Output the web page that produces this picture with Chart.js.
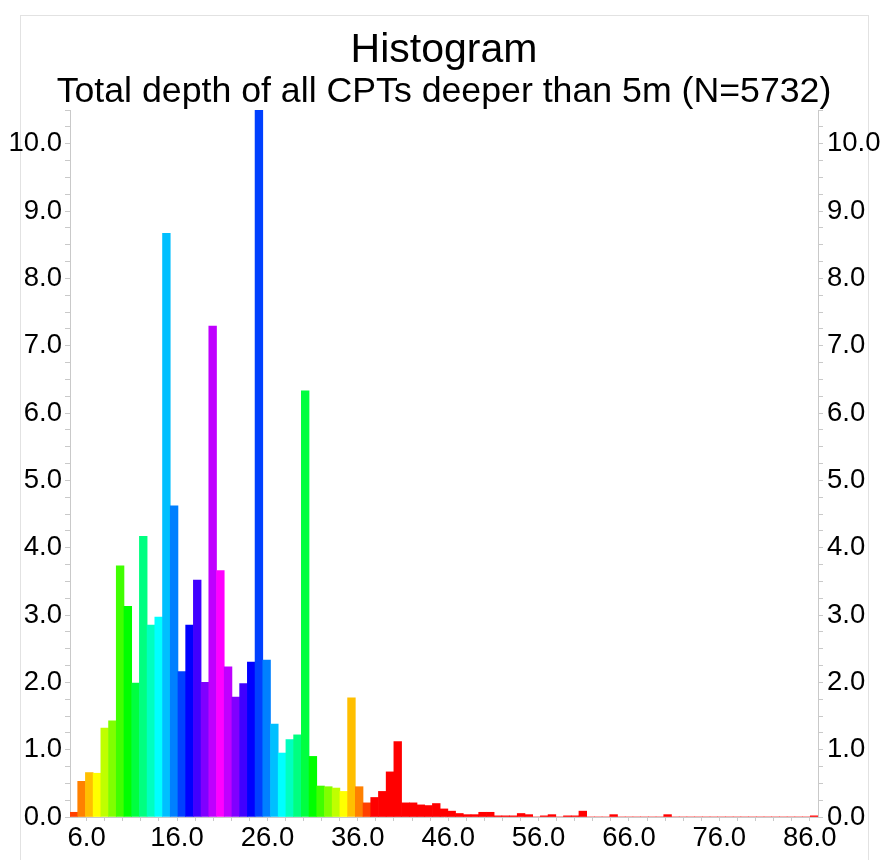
<!DOCTYPE html>
<html>
<head>
<meta charset="utf-8">
<script src="https://cdn.jsdelivr.net/npm/chart.js@4/dist/chart.umd.min.js"></script>
<style>
html,body{margin:0;padding:0;background:#fff;}
canvas{display:block;}
</style>
</head>
<body>
<canvas id="c" width="881" height="860"></canvas>
<script>
const titleText = 'Histogram';
const subtitleText = 'Total depth of all CPTs deeper than 5m (N=5732)';

// bin centres (m)
const binCenters = [
  4.584, 5.437, 6.290, 7.144, 7.997, 8.850, 9.703, 10.556, 11.410, 12.263,
  13.116, 13.969, 14.822, 15.676, 16.529, 17.382, 18.235, 19.088, 19.942, 20.795,
  21.648, 22.501, 23.354, 24.208, 25.061, 25.914, 26.767, 27.620, 28.474, 29.327,
  30.180, 31.033, 31.886, 32.740, 33.593, 34.446, 35.299, 36.152, 37.006, 37.859,
  38.712, 39.565, 40.418, 41.272, 42.125, 42.978, 43.831, 44.684, 45.538, 46.391,
  47.244, 48.097, 48.950, 49.804, 50.657, 51.510, 52.363, 53.216, 54.070, 54.923,
  55.776, 56.629, 57.482, 58.336, 59.189, 60.042, 60.895, 61.748, 62.602, 63.455,
  64.308, 65.161, 66.014, 66.868, 67.721, 68.574, 69.427, 70.280, 71.134, 71.987,
  72.840, 73.693, 74.546, 75.400, 76.253, 77.106, 77.959, 78.812, 79.666, 80.519,
  81.372, 82.225, 83.078, 83.932, 84.785, 85.638, 86.491
];

// percentage of CPTs per bin
const percentages = [
  0.07, 0.53, 0.66, 0.65, 1.32, 1.43, 3.73, 3.13, 1.99, 4.17,
  2.85, 2.97, 8.67, 4.62, 2.16, 2.85, 3.52, 2.00, 7.29, 3.66,
  2.23, 1.78, 1.98, 2.30, 10.6, 2.33, 1.38, 0.95, 1.15, 1.22,
  6.33, 0.90, 0.46, 0.45, 0.43, 0.38, 1.77, 0.45, 0.21, 0.29,
  0.38, 0.67, 1.12, 0.21, 0.21, 0.18, 0.17, 0.20, 0.12, 0.087,
  0.052, 0.035, 0.035, 0.07, 0.07, 0.017, 0.017, 0.017, 0.052, 0.035,
  0, 0.017, 0.035, 0, 0.017, 0.017, 0.087, 0, 0, 0,
  0.035, 0, 0, 0, 0, 0, 0, 0.035, 0, 0,
  0, 0, 0, 0, 0, 0, 0, 0, 0, 0,
  0, 0, 0, 0, 0, 0, 0.017
];

const xTickValues = [6,8,10,12,14,16,18,20,22,24,26,28,30,32,34,36,38,40,42,44,46,48,50,52,54,56,58,60,62,64,66,68,70,72,74,76,78,80,82,84,86];
const xLabelValues = [6,16,26,36,46,56,66,76,86];
const yMajorTicks = [0,1,2,3,4,5,6,7,8,9,10];

const barColors = [
  '#ff4000','#ff8000','#ffbf00','#ffff00','#bfff00','#80ff00','#40ff00','#00ff00','#00ff40','#00ff80',
  '#00ffbf','#00ffff','#00bfff','#0080ff','#0040ff','#0000ff','#4000ff','#8000ff','#bf00ff','#ff00ff',
  '#bf00ff','#8000ff','#4000ff','#0000ff','#0040ff','#0080ff','#00bfff','#00ffff','#00ffbf','#00ff80',
  '#00ff40','#00ff00','#40ff00','#80ff00','#bfff00','#ffff00','#ffbf00','#ff8000','#ff4000'
];
const colorFor = i => i < barColors.length ? barColors[i] : '#ff0000';

const FONT = '"Liberation Sans", Arial, Helvetica, sans-serif';
const AXIS_GRAY = '#c9c9c9';
const TICK_FONT_SIZE = 27.5;

const framePlugin = {
  id: 'frame',
  beforeDraw(chart) {
    const ctx = chart.ctx;
    ctx.save();
    ctx.fillStyle = '#ffffff';
    ctx.fillRect(0, 0, chart.width, chart.height);
    ctx.strokeStyle = '#e2e2e2';
    ctx.lineWidth = 1;
    ctx.strokeRect(20.5, 15.5, 848, 900);
    ctx.restore();
  }
};

const titlePlugin = {
  id: 'titles',
  afterDraw(chart) {
    const ctx = chart.ctx;
    const cx = (chart.chartArea.left + chart.chartArea.right) / 2;
    ctx.save();
    ctx.fillStyle = '#000';
    ctx.textAlign = 'center';
    ctx.textBaseline = 'alphabetic';
    ctx.font = '41px ' + FONT;
    ctx.fillText(titleText, cx, 61.5);
    ctx.font = '35.7px ' + FONT;
    ctx.fillText(subtitleText, cx, 102);
    ctx.restore();
  }
};

const yTickCallback = v => yMajorTicks.some(m => Math.abs(m - v) < 1e-9) ? Number(v).toFixed(1) : '';

const yScaleCommon = {
  type: 'linear',
  min: 0,
  max: 10.5,
  grid: { display: true, drawOnChartArea: false, drawTicks: true, tickLength: 5, color: AXIS_GRAY },
  border: { display: true, color: AXIS_GRAY },
  ticks: {
    stepSize: 0.25,
    autoSkip: false,
    color: '#000',
    font: { family: FONT, size: TICK_FONT_SIZE },
    callback: yTickCallback
  }
};

new Chart(document.getElementById('c'), {
  type: 'bar',
  data: {
    datasets: [{
      data: binCenters.map((x, i) => ({ x: x, y: percentages[i] })),
      backgroundColor: binCenters.map((x, i) => colorFor(i)),
      borderWidth: 0,
      barPercentage: 1,
      categoryPercentage: 1
    }]
  },
  options: {
    responsive: false,
    animation: false,
    devicePixelRatio: 1,
    layout: { padding: { top: 110, left: 0, right: 0, bottom: 0 } },
    plugins: {
      legend: { display: false },
      title: { display: false },
      tooltip: { enabled: false }
    },
    scales: {
      x: {
        type: 'linear',
        min: 4.157,
        max: 86.92,
        offset: false,
        grid: { display: true, offset: false, drawOnChartArea: false, drawTicks: true, tickLength: 4, color: AXIS_GRAY },
        border: { display: true, color: AXIS_GRAY },
        afterBuildTicks: scale => { scale.ticks = xTickValues.map(v => ({ value: v })); },
        afterFit: scale => { scale.height = 43; },
        ticks: {
          autoSkip: false,
          maxRotation: 0,
          minRotation: 0,
          padding: 1,
          color: '#000',
          font: { family: FONT, size: TICK_FONT_SIZE },
          callback: v => xLabelValues.includes(Math.round(v)) && Math.abs(v - Math.round(v)) < 1e-9 ? Number(v).toFixed(1) : ''
        }
      },
      y: Object.assign({}, yScaleCommon, {
        position: 'left',
        afterFit: scale => { scale.width = 70; },
        ticks: Object.assign({}, yScaleCommon.ticks, { padding: 3 })
      }),
      y2: Object.assign({}, yScaleCommon, {
        position: 'right',
        afterFit: scale => { scale.width = 63; },
        ticks: Object.assign({}, yScaleCommon.ticks, { padding: 4 })
      })
    }
  },
  plugins: [framePlugin, titlePlugin]
});
</script>
</body>
</html>
